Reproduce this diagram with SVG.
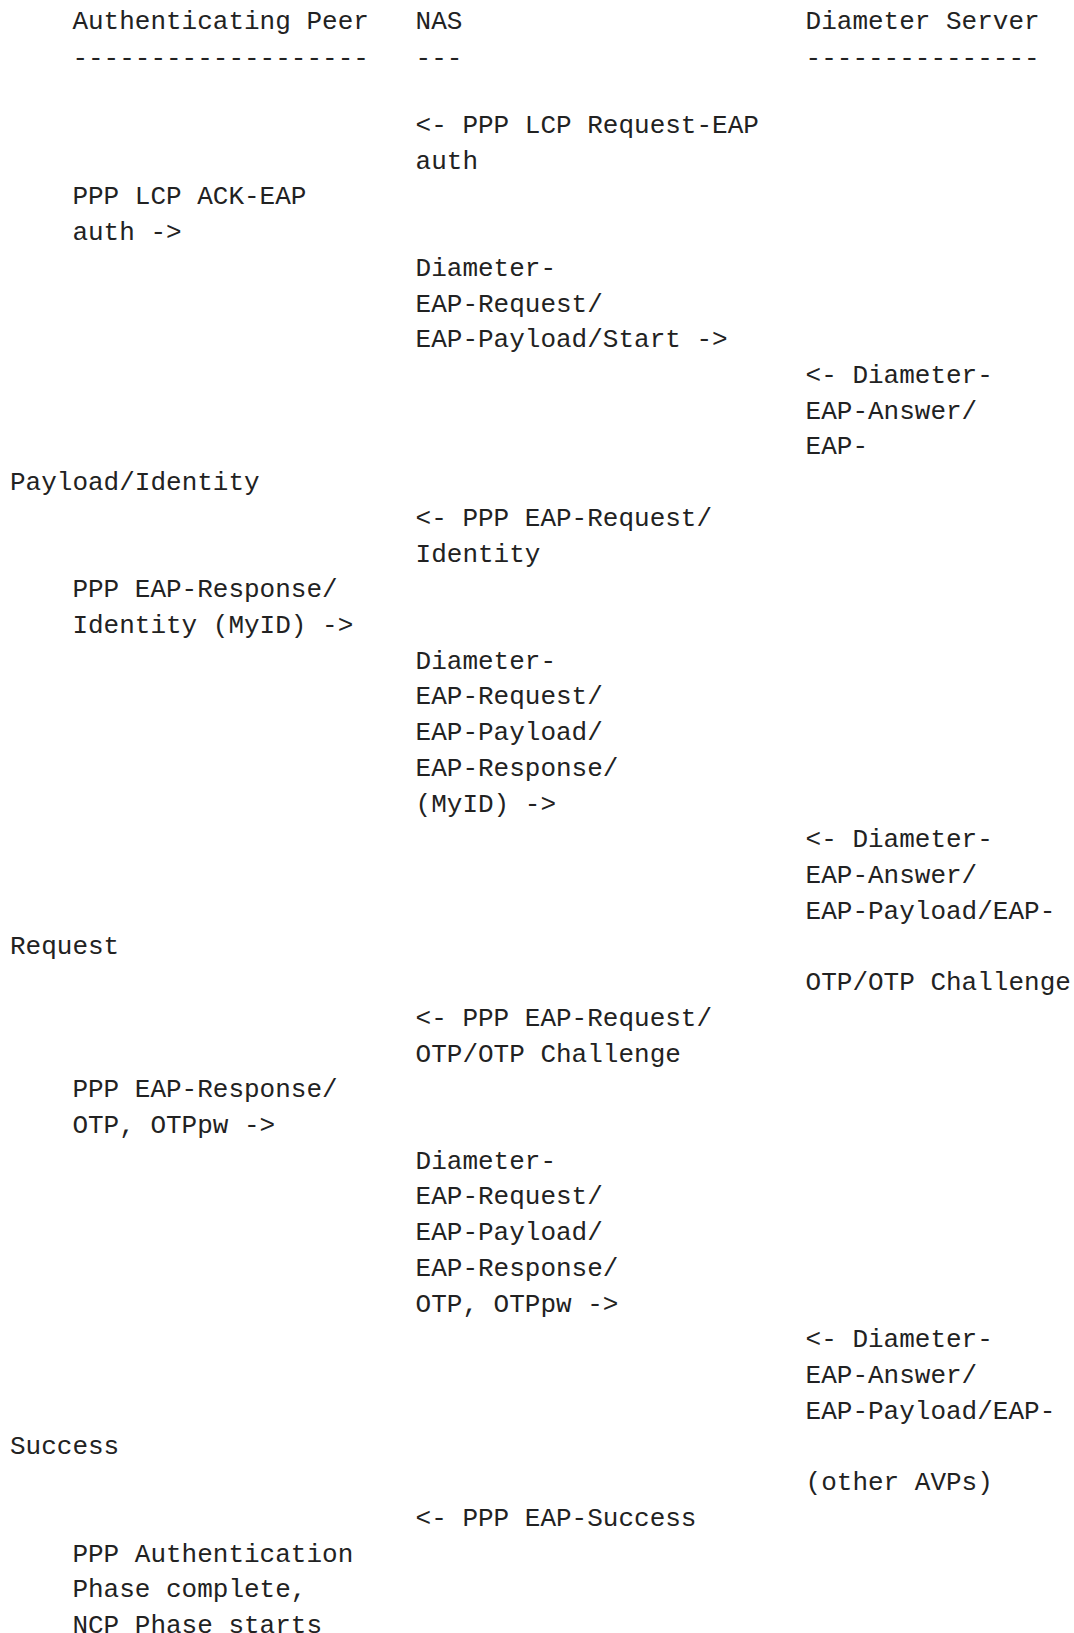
<svg xmlns="http://www.w3.org/2000/svg" width="1074" height="1633" viewBox="0 0 1074 1633">
<style>
text{font-family:"Liberation Mono","DejaVu Sans Mono",monospace;font-size:26px;fill:#222;white-space:pre}
</style>
<rect width="1074" height="1633" fill="#fff"/>
<g id="header-peer"><text x="72.4" y="29">Authenticating Peer</text><text x="72.4" y="65.7">-------------------</text></g>
<g id="header-nas"><text x="415.6" y="29">NAS</text><text x="415.6" y="65.7">---</text></g>
<g id="header-server"><text x="805.6" y="29">Diameter Server</text><text x="805.6" y="65.7">---------------</text></g>
<g id="connectors"></g>
<g id="msg1"><text x="415.6" y="133">&lt;- PPP LCP Request-EAP</text><text x="415.6" y="168.7">auth</text></g>
<g id="msg2"><text x="72.4" y="204.4">PPP LCP ACK-EAP</text><text x="72.4" y="240.1">auth -&gt;</text></g>
<g id="msg3"><text x="415.6" y="275.9">Diameter-</text><text x="415.6" y="311.6">EAP-Request/</text><text x="415.6" y="347.3">EAP-Payload/Start -&gt;</text></g>
<g id="msg4"><text x="805.6" y="383">&lt;- Diameter-</text><text x="805.6" y="418.7">EAP-Answer/</text><text x="805.6" y="454.4">EAP-</text><text x="10" y="490.1">Payload/Identity</text></g>
<g id="msg5"><text x="415.6" y="525.9">&lt;- PPP EAP-Request/</text><text x="415.6" y="561.6">Identity</text></g>
<g id="msg6"><text x="72.4" y="597.3">PPP EAP-Response/</text><text x="72.4" y="633">Identity (MyID) -&gt;</text></g>
<g id="msg7"><text x="415.6" y="668.7">Diameter-</text><text x="415.6" y="704.4">EAP-Request/</text><text x="415.6" y="740.1">EAP-Payload/</text><text x="415.6" y="775.9">EAP-Response/</text><text x="415.6" y="811.6">(MyID) -&gt;</text></g>
<g id="msg8"><text x="805.6" y="847.3">&lt;- Diameter-</text><text x="805.6" y="883">EAP-Answer/</text><text x="805.6" y="918.7">EAP-Payload/EAP-</text><text x="10" y="954.4">Request</text><text x="805.6" y="990.1">OTP/OTP Challenge</text></g>
<g id="msg9"><text x="415.6" y="1025.9">&lt;- PPP EAP-Request/</text><text x="415.6" y="1061.6">OTP/OTP Challenge</text></g>
<g id="msg10"><text x="72.4" y="1097.3">PPP EAP-Response/</text><text x="72.4" y="1133">OTP, OTPpw -&gt;</text></g>
<g id="msg11"><text x="415.6" y="1168.7">Diameter-</text><text x="415.6" y="1204.4">EAP-Request/</text><text x="415.6" y="1240.1">EAP-Payload/</text><text x="415.6" y="1275.9">EAP-Response/</text><text x="415.6" y="1311.6">OTP, OTPpw -&gt;</text></g>
<g id="msg12"><text x="805.6" y="1347.3">&lt;- Diameter-</text><text x="805.6" y="1383">EAP-Answer/</text><text x="805.6" y="1418.7">EAP-Payload/EAP-</text><text x="10" y="1454.4">Success</text><text x="805.6" y="1490.1">(other AVPs)</text></g>
<g id="msg13"><text x="415.6" y="1525.9">&lt;- PPP EAP-Success</text></g>
<g id="msg14"><text x="72.4" y="1561.6">PPP Authentication</text><text x="72.4" y="1597.3">Phase complete,</text><text x="72.4" y="1633">NCP Phase starts</text></g>
</svg>
